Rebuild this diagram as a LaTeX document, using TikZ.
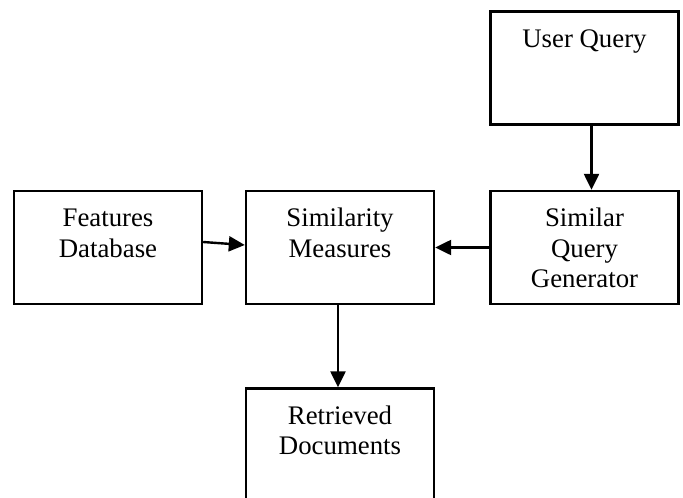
\documentclass[tikz,border=0pt]{standalone}
\usepackage{fontspec}
\setmainfont{Liberation Serif}
\usetikzlibrary{arrows.meta}
\newcommand{\boxlines}[1]{\parbox[c][113pt][t]{184pt}{\centering\rule{0pt}{35.5pt}#1}}
\tikzset{
  blok/.style={draw, line width=2.4pt, inner sep=0pt, minimum width=188pt, minimum height=113pt,
    font=\fontsize{26.8}{30.5}\selectfont},
  muiten/.style={line width=2.4pt, -{Triangle[length=16pt,width=15pt]}}
}
\begin{document}
\begin{tikzpicture}[x=1pt,y=-1pt]
        \useasboundingbox (0,0) rectangle (683,498);
        %Khối
            \node[blok] (uq) at (584.5,68) {\boxlines{User Query}};
            \node[blok] (sqg) at (584.5,247.5) {\boxlines{Similar\\Query\\Generator}};
            \node[blok] (sm) at (340,247.5) {\boxlines{Similarity\\Measures}};
            \node[blok] (fd) at (108,247.5) {\boxlines{Features\\Database}};
            \node[blok] (rd) at (340,445) {\boxlines{Retrieved\\Documents}};
        %Mũi tên
            \draw[muiten] ([xshift=7pt]uq.south) -- ([xshift=7pt]sqg.north);
            \draw[muiten] (sqg.west) -- (sm.east);
            \draw[muiten] ([yshift=5.5pt]fd.east) -- ([yshift=2.5pt]sm.west);
            \draw[muiten] ([xshift=-2pt]sm.south) -- ([xshift=-2pt]rd.north);
\end{tikzpicture}
\end{document}
